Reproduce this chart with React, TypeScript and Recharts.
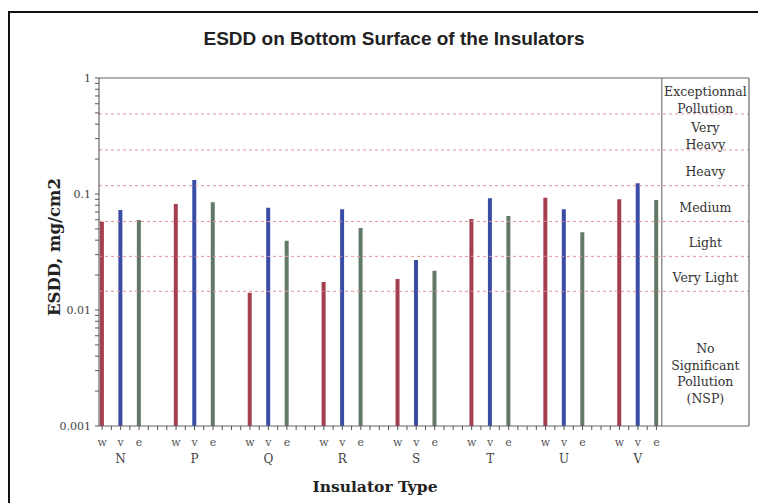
import React from 'react';
import { ComposedChart, Bar, Cell, XAxis, YAxis, ReferenceLine, ReferenceArea } from 'recharts';

// ---------- data ----------
const groups = ['N', 'P', 'Q', 'R', 'S', 'T', 'U', 'V'];
const seriesKeys = ['w', 'v', 'e'];
const wValues = [0.0577, 0.082, 0.0141, 0.0174, 0.0185, 0.0609, 0.0929, 0.09];
const vValues = [0.0728, 0.132, 0.0762, 0.074, 0.027, 0.0918, 0.0738, 0.1236];
const eValues = [0.0597, 0.0848, 0.0396, 0.051, 0.0218, 0.0646, 0.0468, 0.0888];
const thresholds = [0.0145, 0.029, 0.058, 0.118, 0.24, 0.49];
const classLabels = [
  ['No', 'Significant', 'Pollution', '(NSP)'],
  ['Very Light'],
  ['Light'],
  ['Medium'],
  ['Heavy'],
  ['Very', 'Heavy'],
  ['Exceptionnal', 'Pollution'],
];
const yMajorTicks = [0.001, 0.01, 0.1, 1];
const title = 'ESDD on Bottom Surface of the Insulators';
const yTitle = 'ESDD, mg/cm2';
const xTitle = 'Insulator Type';

// ---------- layout / style constants ----------
const SLOTS = 4; // w, v, e, gap
const X_MIN = -0.17;
const X_MAX = 35.01;
const X_SEP = 30.29;
const colors = ['#a43f4f', '#3a4ca6', '#62796a'];
const serif = 'DejaVu Serif';
const labelShift = [15, 4, 4, 4, 4, 4, 4];

const seriesValues = [wValues, vValues, eValues];
const data: { x: number; range: [number, number]; s: number }[] = [];
groups.forEach((_, g) => {
  seriesValues.forEach((vals, s) => {
    data.push({ x: g * SLOTS + s, range: [yMajorTicks[0], vals[g]], s });
  });
});

const yTicks: number[] = [];
for (let d = 0; d < yMajorTicks.length - 1; d++) {
  for (let m = 1; m <= 9; m++) yTicks.push(+(yMajorTicks[d] * m).toPrecision(6));
}
yTicks.push(yMajorTicks[yMajorTicks.length - 1]);

const xTicks: number[] = [];
for (let i = 0; i <= (groups.length * SLOTS - 2) * 2; i++) xTicks.push(i / 2);

const bands: [number, number][] = [];
const edges = [yMajorTicks[0], ...thresholds, yMajorTicks[yMajorTicks.length - 1]];
for (let i = 0; i < edges.length - 1; i++) bands.push([edges[i], edges[i + 1]]);

const isMajor = (v: number) => Math.abs(Math.log10(v) - Math.round(Math.log10(v))) < 1e-9;

const XTick = (props: any) => {
  const { x, y, payload } = props;
  const v = payload.value;
  if (Math.abs(v - Math.round(v)) > 1e-6) return <g />;
  const i = Math.round(v);
  const g = Math.floor(i / SLOTS);
  const s = i % SLOTS;
  if (s > 2 || g >= groups.length) return <g />;
  return (
    <g>
      <text x={x} y={y + 14} textAnchor="middle" fontSize={11} fontFamily={serif} fill="#555">
        {seriesKeys[s]}
      </text>
      {s === 1 && (
        <text x={x} y={y + 31} textAnchor="middle" fontSize={12} fontFamily={serif} fill="#444">
          {groups[g]}
        </text>
      )}
    </g>
  );
};

const bandLabel = (lines: string[], shift: number) => (props: any) => {
  const vb = props.viewBox || {};
  const cx = vb.x + vb.width / 2;
  const cy = vb.y + vb.height / 2 + shift;
  const lh = 16.5;
  const start = cy - ((lines.length - 1) * lh) / 2;
  return (
    <text textAnchor="middle" fontSize={12.5} fontFamily={serif} fill="#333">
      {lines.map((l, k) => (
        <tspan key={k} x={cx} y={start + k * lh} dominantBaseline="central">
          {l}
        </tspan>
      ))}
    </text>
  );
};

export default function App() {
  return (
    <div style={{ position: 'relative', width: 758, height: 503, overflow: 'hidden', background: '#fff' }}>
      <style>{`html,body{margin:0;padding:0;overflow:hidden;background:#fff}`}</style>
      <div
        style={{
          position: 'absolute',
          left: 8,
          top: 11,
          width: 900,
          height: 700,
          border: '2px solid #111',
          boxSizing: 'border-box',
        }}
      />
      <svg width={758} height={503} style={{ position: 'absolute', left: 0, top: 0 }}>
        <text
          x={394}
          y={45}
          textAnchor="middle"
          fontFamily="Liberation Sans, Arial, sans-serif"
          fontWeight="bold"
          fontSize={19}
          fill="#222"
        >
          {title}
        </text>
      </svg>
      <div style={{ position: 'absolute', left: 0, top: 0 }}>
        <ComposedChart width={758} height={503} data={data} margin={{ top: 78, right: 9, bottom: 37, left: 49 }}>
          {bands.map((b, i) => (
            <ReferenceArea
              key={'band' + i}
              x1={X_SEP}
              x2={X_MAX}
              y1={b[0]}
              y2={b[1]}
              fill="none"
              fillOpacity={0}
              stroke="none"
              ifOverflow="visible"
              label={{ content: bandLabel(classLabels[i], labelShift[i]) }}
            />
          ))}
          {thresholds.map((t) => (
            <ReferenceLine key={'t' + t} y={t} stroke="#e0949a" strokeDasharray="3 3" strokeWidth={1} />
          ))}
          <ReferenceLine y={yMajorTicks[yMajorTicks.length - 1]} stroke="#666" strokeWidth={1.2} />
          <ReferenceLine x={X_MAX} stroke="#666" strokeWidth={1.2} ifOverflow="visible" />
          <ReferenceLine x={X_SEP} stroke="#777" strokeWidth={1.2} />
          <XAxis
            dataKey="x"
            type="number"
            domain={[X_MIN, X_MAX]}
            allowDataOverflow
            ticks={xTicks}
            interval={0}
            height={40}
            tickSize={4}
            tickMargin={2}
            stroke="#555"
            tickLine={{ stroke: '#555' }}
            axisLine={{ stroke: '#666', strokeWidth: 1.2 }}
            tick={<XTick />}
            label={{
              content: () => (
                <text x={375} y={492} textAnchor="middle" fontFamily={serif} fontWeight="bold" fontSize={15.5} fill="#222">
                  {xTitle}
                </text>
              ),
            }}
          />
          <YAxis
            type="number"
            scale="log"
            domain={[yMajorTicks[0], yMajorTicks[yMajorTicks.length - 1]]}
            allowDataOverflow
            ticks={yTicks}
            interval={0}
            width={50}
            tickSize={4}
            tickMargin={4}
            stroke="#555"
            axisLine={{ stroke: '#666', strokeWidth: 1.2 }}
            tickLine={{ stroke: '#555' }}
            tick={{ fontSize: 11, fontFamily: serif, fill: '#444' }}
            tickFormatter={(v: number) => (isMajor(v) ? String(v) : '')}
            label={{
              content: () => (
                <text
                  transform="translate(54,247) rotate(-90)"
                  textAnchor="middle"
                  dominantBaseline="central"
                  fontFamily={serif}
                  fontWeight="bold"
                  fontSize={16.5}
                  fill="#222"
                >
                  {yTitle}
                </text>
              ),
            }}
          />
          <Bar dataKey="range" barSize={4} isAnimationActive={false}>
            {data.map((d, i) => (
              <Cell key={i} fill={colors[d.s]} />
            ))}
          </Bar>
        </ComposedChart>
      </div>
    </div>
  );
}
